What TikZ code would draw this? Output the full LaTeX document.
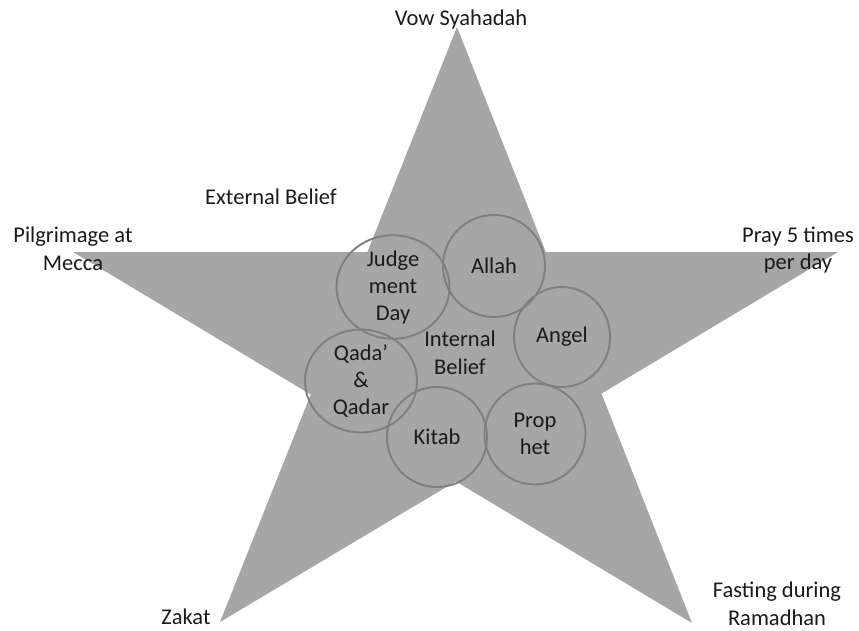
\documentclass[tikz,border=0pt]{standalone}
\usepackage{fontspec}
\setmainfont{Carlito}
\usetikzlibrary{shapes.geometric}
\definecolor{starfill}{HTML}{A6A6A6}
\definecolor{ringcol}{HTML}{7F7F7F}
\definecolor{txt}{HTML}{1A1A1A}
\begin{document}
\begin{tikzpicture}[x=1pt,y=-1pt,
  lbl/.style={font=\fontsize{22.5}{27.5}\selectfont, text=txt, align=center, inner sep=0pt},
  ring/.style={ellipse, draw=ringcol, line width=1.9pt, inner sep=0pt, font=\fontsize{22.5}{27}\selectfont, text=txt, align=center}]
\useasboundingbox (0,0) rectangle (859,630);
% star
\fill[starfill] (457,27) -- (545.8,252) -- (838,252) -- (601.5,393.6) -- (692,623)
  -- (455.8,481.4) -- (220,622) -- (310.7,394.5) -- (73,252) -- (367.4,252) -- cycle;
% inner circles
\node[ring, minimum width=102pt, minimum height=102pt] (allah) at (494,266) {Allah};
\node[ring, minimum width=113pt, minimum height=100pt] (judg) at (393,287) {Judge\\ment\\Day};
\node[ring, minimum width=96pt, minimum height=100pt] (angel) at (562,337) {Angel};
\node[ring, minimum width=112pt, minimum height=100pt] (qada) at (361,381) {Qada’\\\&\\Qadar};
\node[ring, minimum width=100pt, minimum height=100pt] (kitab) at (437,437) {Kitab};
\node[ring, minimum width=101pt, minimum height=101pt] (prophet) at (535,434) {Prop\\het};
\node[lbl] (internal) at (460,353) {Internal\\Belief};
% outer labels
\node[lbl] (vow) at (461,19) {Vow Syahadah};
\node[lbl] (pilg) at (73,249) {Pilgrimage at\\Mecca};
\node[lbl] (pray) at (798,250) {Pray 5 times\\per day};
\node[lbl] (ext) at (271,197) {External Belief};
\node[lbl] (zakat) at (186,617) {Zakat};
\node[lbl] (fast) at (777,604) {Fasting during\\Ramadhan};
\end{tikzpicture}
\end{document}
